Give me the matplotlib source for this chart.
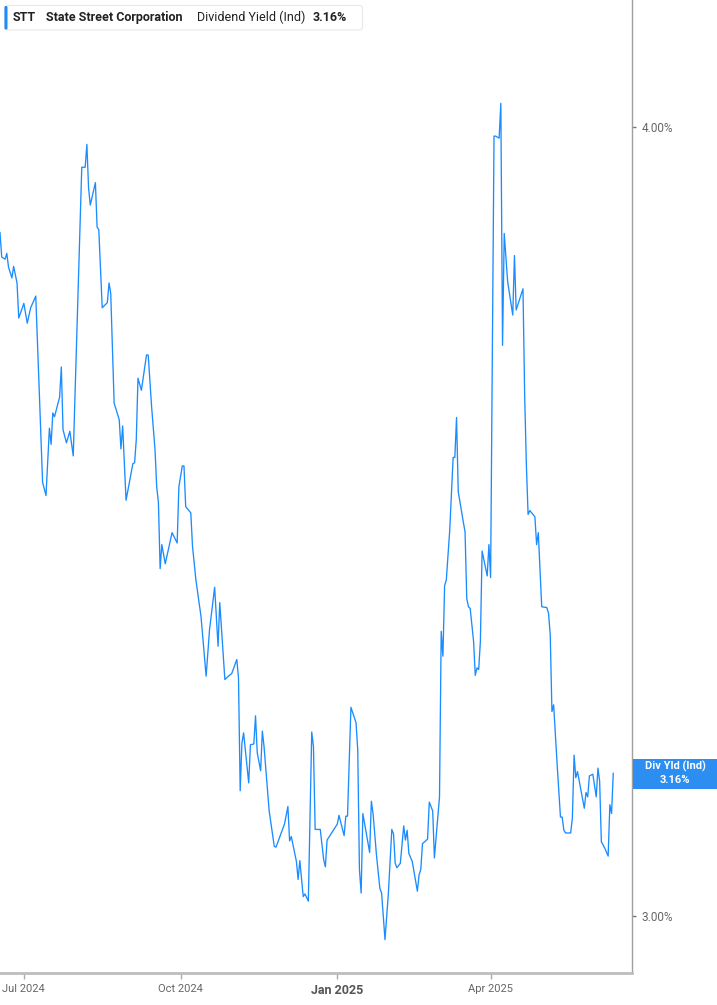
import matplotlib
matplotlib.use("Agg")
import pandas as pd
from matplotlib import pyplot as plt
from matplotlib.patches import FancyBboxPatch, Rectangle
from matplotlib.ticker import FixedLocator, NullLocator, FuncFormatter

# STT dividend yield (indicated), %
dates = [
    "2024-06-17", "2024-06-18", "2024-06-20", "2024-06-21", "2024-06-22", "2024-06-24",
    "2024-06-25", "2024-06-27", "2024-06-28", "2024-07-01", "2024-07-03", "2024-07-05",
    "2024-07-08", "2024-07-12", "2024-07-14", "2024-07-16", "2024-07-17", "2024-07-18",
    "2024-07-19", "2024-07-22", "2024-07-23", "2024-07-24", "2024-07-26", "2024-07-28",
    "2024-07-30", "2024-07-31", "2024-08-04", "2024-08-06", "2024-08-07", "2024-08-08",
    "2024-08-09", "2024-08-12", "2024-08-13", "2024-08-14", "2024-08-16", "2024-08-19",
    "2024-08-20", "2024-08-21", "2024-08-23", "2024-08-26", "2024-08-27", "2024-08-28",
    "2024-08-30", "2024-09-03", "2024-09-04", "2024-09-05", "2024-09-06", "2024-09-08",
    "2024-09-11", "2024-09-12", "2024-09-14", "2024-09-16", "2024-09-17", "2024-09-18",
    "2024-09-19", "2024-09-20", "2024-09-22", "2024-09-26", "2024-09-29", "2024-09-30",
    "2024-10-02", "2024-10-03", "2024-10-04", "2024-10-07", "2024-10-08", "2024-10-10",
    "2024-10-13", "2024-10-16", "2024-10-18", "2024-10-21", "2024-10-23", "2024-10-24",
    "2024-10-27", "2024-10-29", "2024-10-31", "2024-11-03", "2024-11-04", "2024-11-05",
    "2024-11-06", "2024-11-07", "2024-11-10", "2024-11-11", "2024-11-13", "2024-11-14",
    "2024-11-15", "2024-11-17", "2024-11-18", "2024-11-19", "2024-11-22", "2024-11-25",
    "2024-11-26", "2024-12-01", "2024-12-03", "2024-12-04", "2024-12-05", "2024-12-08",
    "2024-12-09", "2024-12-10", "2024-12-12", "2024-12-13", "2024-12-15", "2024-12-17",
    "2024-12-18", "2024-12-19", "2024-12-22", "2024-12-24", "2024-12-25", "2024-12-26",
    "2025-01-01", "2025-01-02", "2025-01-05", "2025-01-06", "2025-01-07", "2025-01-09",
    "2025-01-12", "2025-01-13", "2025-01-14", "2025-01-15", "2025-01-16", "2025-01-20",
    "2025-01-21", "2025-01-22", "2025-01-24", "2025-01-26", "2025-01-27", "2025-01-29",
    "2025-01-31", "2025-02-02", "2025-02-03", "2025-02-04", "2025-02-05", "2025-02-07",
    "2025-02-09", "2025-02-10", "2025-02-11", "2025-02-12", "2025-02-14", "2025-02-17",
    "2025-02-18", "2025-02-19", "2025-02-20", "2025-02-23", "2025-02-24", "2025-02-26",
    "2025-02-27", "2025-03-02", "2025-03-03", "2025-03-04", "2025-03-05", "2025-03-06",
    "2025-03-08", "2025-03-10", "2025-03-11", "2025-03-12", "2025-03-13", "2025-03-16",
    "2025-03-17", "2025-03-18", "2025-03-19", "2025-03-20", "2025-03-22", "2025-03-23",
    "2025-03-24", "2025-03-25", "2025-03-26", "2025-03-27", "2025-03-30", "2025-03-31",
    "2025-04-01", "2025-04-03", "2025-04-04", "2025-04-06", "2025-04-07", "2025-04-08",
    "2025-04-09", "2025-04-11", "2025-04-14", "2025-04-15", "2025-04-16", "2025-04-20",
    "2025-04-21", "2025-04-22", "2025-04-23", "2025-04-24", "2025-04-27", "2025-04-28",
    "2025-04-29", "2025-05-01", "2025-05-04", "2025-05-05", "2025-05-06", "2025-05-07",
    "2025-05-08", "2025-05-10", "2025-05-12", "2025-05-13", "2025-05-14", "2025-05-15",
    "2025-05-18", "2025-05-19", "2025-05-20", "2025-05-21", "2025-05-22", "2025-05-26",
    "2025-05-27", "2025-05-28", "2025-05-29", "2025-05-31", "2025-06-02", "2025-06-03",
    "2025-06-04", "2025-06-05", "2025-06-07", "2025-06-09", "2025-06-10", "2025-06-11",
    "2025-06-12",
]

yields = [
    3.849, 3.815, 3.812, 3.820, 3.801, 3.786, 3.802, 3.779, 3.731, 3.751, 3.724, 3.745,
    3.761, 3.514, 3.497, 3.584, 3.563, 3.604, 3.599, 3.625, 3.665, 3.582, 3.565, 3.580,
    3.548, 3.625, 3.942, 3.942, 3.975, 3.912, 3.888, 3.920, 3.857, 3.853, 3.745, 3.752,
    3.779, 3.765, 3.617, 3.595, 3.557, 3.587, 3.491, 3.538, 3.539, 3.569, 3.650, 3.634,
    3.681, 3.681, 3.612, 3.556, 3.508, 3.488, 3.405, 3.435, 3.411, 3.450, 3.437, 3.508,
    3.535, 3.535, 3.483, 3.475, 3.433, 3.391, 3.346, 3.274, 3.330, 3.382, 3.310, 3.363,
    3.270, 3.274, 3.277, 3.294, 3.272, 3.140, 3.195, 3.207, 3.149, 3.193, 3.194, 3.227,
    3.184, 3.163, 3.209, 3.191, 3.117, 3.077, 3.076, 3.102, 3.122, 3.083, 3.088, 3.060,
    3.040, 3.061, 3.021, 3.024, 3.016, 3.208, 3.191, 3.096, 3.096, 3.062, 3.054, 3.084,
    3.102, 3.112, 3.089, 3.111, 3.111, 3.237, 3.219, 3.187, 3.051, 3.025, 3.114, 3.070,
    3.128, 3.114, 3.067, 3.030, 3.025, 2.974, 3.025, 3.096, 3.091, 3.058, 3.053, 3.058,
    3.100, 3.084, 3.095, 3.069, 3.060, 3.027, 3.045, 3.051, 3.080, 3.085, 3.127, 3.117,
    3.064, 3.133, 3.328, 3.298, 3.384, 3.391, 3.453, 3.546, 3.546, 3.598, 3.502, 3.463,
    3.451, 3.368, 3.358, 3.356, 3.316, 3.275, 3.284, 3.282, 3.316, 3.427, 3.396, 3.435,
    3.394, 3.987, 3.987, 3.984, 4.035, 3.694, 3.848, 3.781, 3.735, 3.817, 3.742, 3.771,
    3.626, 3.536, 3.473, 3.478, 3.470, 3.435, 3.450, 3.358, 3.357, 3.350, 3.324, 3.232,
    3.240, 3.172, 3.110, 3.110, 3.095, 3.092, 3.092, 3.109, 3.181, 3.155, 3.162, 3.120,
    3.138, 3.133, 3.157, 3.159, 3.133, 3.166, 3.151, 3.082, 3.075, 3.066, 3.124, 3.114,
    3.160,
]

tick_dates = ["2024-07-01", "2024-10-01", "2025-01-01", "2025-04-01"]
tick_labels = ["Jul 2024", "Oct 2024", "Jan 2025", "Apr 2025"]
y_ticks = [3.0, 4.0]
last_yield = 3.16

BLUE = "#1a8cff"
W, H = 717, 1005

plt.rcParams["font.family"] = ["Roboto", "DejaVu Sans"]
fig = plt.figure(figsize=(W / 100, H / 100), dpi=100)
ax = fig.add_axes([0, (H - 973) / H, 632 / W, 973 / H])

x = pd.to_datetime(dates)
ax.plot(x, yields, color=BLUE, lw=0.95)

ax.set_yscale("log")
ax.set_ylim(2.938, 4.19)
ax.set_xlim(pd.Timestamp("2024-06-17"), pd.Timestamp("2025-06-23"))

ax.yaxis.tick_right()
ax.yaxis.set_major_locator(FixedLocator(y_ticks))
ax.yaxis.set_minor_locator(NullLocator())
ax.yaxis.set_major_formatter(FuncFormatter(lambda v, p: "%.2f%%" % v))
ax.tick_params(axis="y", which="major", direction="out", length=3, width=1,
               color="#777777", labelcolor="#666666", labelsize=8.5, pad=4)

ax.set_xticks(pd.to_datetime(tick_dates))
ax.set_xticklabels(tick_labels)
ax.xaxis.set_minor_locator(NullLocator())
ax.tick_params(axis="x", direction="out", length=4, width=1, color="#aaaaaa",
               labelcolor="#666666", labelsize=8, pad=4)
for lab in ax.get_xticklabels():
    if lab.get_text() == "Jan 2025":
        lab.set_fontweight("bold")
        lab.set_fontsize(9)
        lab.set_color("#555555")

for side in ("top", "left"):
    ax.spines[side].set_visible(False)
ax.spines["right"].set_color("#a0a0a0")
ax.spines["right"].set_linewidth(1.0)
ax.spines["bottom"].set_color("#bdbdbd")
ax.spines["bottom"].set_linewidth(2.0)

# header box (pixel positions converted to inches)
tr = fig.dpi_scale_trans
hdr = FancyBboxPatch((0.045, (H - 30) / 100), 3.58, 0.245,
                     boxstyle="round,pad=0,rounding_size=0.03",
                     fc="white", ec="#e8e8e8", lw=0.8, transform=tr)
fig.add_artist(hdr)
fig.add_artist(FancyBboxPatch((0.045, (H - 29.5) / 100), 0.03, 0.235,
                              boxstyle="round,pad=0,rounding_size=0.012",
                              fc=BLUE, ec="none", transform=tr))
ty = (H - 17.5) / 100
fig.text(0.13, ty, "STT", transform=tr, fontsize=9, fontweight="bold",
         color="#222222", va="center")
fig.text(0.46, ty, "State Street Corporation", transform=tr, fontsize=9,
         fontweight="bold", color="#222222", va="center")
fig.text(1.97, ty, "Dividend Yield (Ind)", transform=tr, fontsize=9,
         color="#222222", va="center")
fig.text(3.13, ty, "%.2f%%" % last_yield, transform=tr, fontsize=9,
         fontweight="bold", color="#222222", va="center")

# last value tag on the right axis
y_disp = ax.transData.transform((0, last_yield))[1] / fig.dpi
fig.add_artist(Rectangle((6.33, y_disp - 0.155), W / 100 - 6.33, 0.30,
                         fc="#2b8ef0", ec="none", transform=tr))
fig.text(6.75, y_disp + 0.065, "Div Yld (Ind)", transform=tr, fontsize=8,
         fontweight="bold", color="white", ha="center", va="center")
fig.text(6.75, y_disp - 0.07, "%.2f%%" % last_yield, transform=tr, fontsize=8,
         fontweight="bold", color="white", ha="center", va="center")

fig.savefig("out.png", dpi=100)
